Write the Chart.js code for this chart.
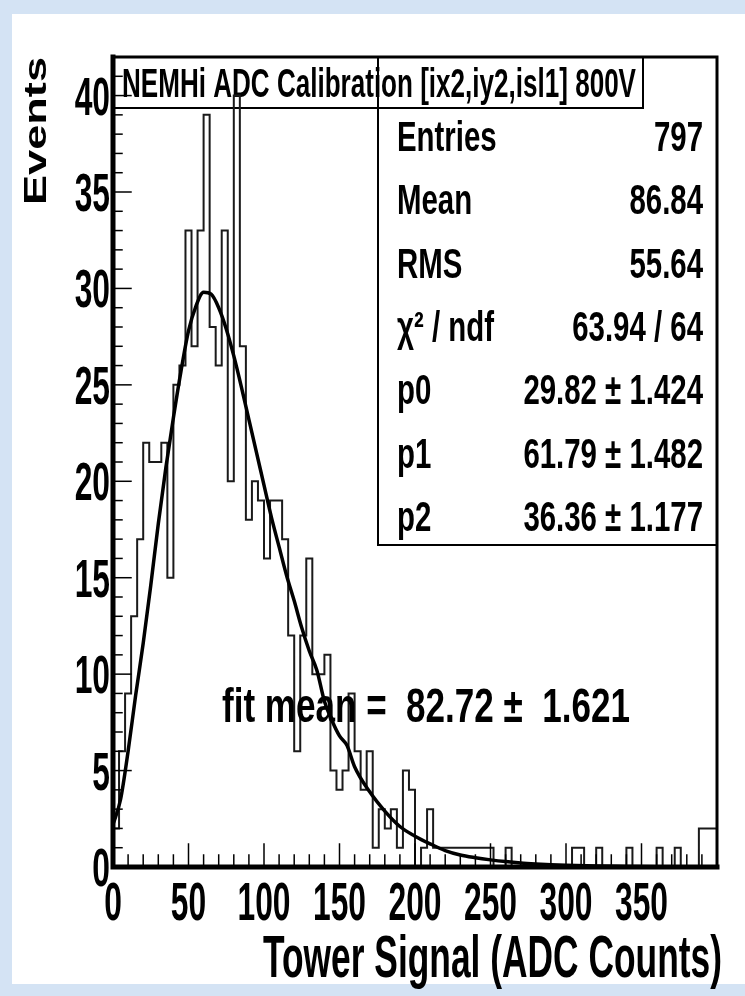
<!DOCTYPE html>
<html>
<head>
<meta charset="utf-8">
<title>NEMHi ADC Calibration</title>
<script src="https://cdn.jsdelivr.net/npm/chart.js@4.4.1/dist/chart.umd.min.js"></script>
<style>
  html, body { margin: 0; padding: 0; background: #d4e3f4; }
  canvas { display: block; }
</style>
</head>
<body>
<canvas id="histChart" width="745" height="996"></canvas>
<script>
// ===== DATA =====
const binWidth = 4;
const binCounts = [
  1, 2, 6, 9, 13, 17, 22, 21, 21, 22,
  15, 25, 26, 33, 27, 33, 39, 28, 26, 33,
  20, 40, 27, 18, 20, 19, 16, 19, 19, 17,
  12, 6, 12, 16, 10, 10, 11, 5, 4, 5,
  9, 6, 4, 6, 1, 3, 2, 3, 1, 5,
  4, 0, 1, 3, 1, 1, 1, 1, 1, 1,
  1, 1, 1, 1, 0, 0, 1, 0, 0, 0,
  0, 0, 0, 0, 0, 0, 0, 1, 1, 0,
  0, 1, 0, 0, 0, 0, 1, 0, 0, 0,
  0, 1, 0, 0, 1, 0, 0, 0, 2, 2
];

// fit curve
const fitX = [0, 5, 10, 15, 20, 25, 30, 35, 40, 45, 50, 55, 60, 65, 70, 75, 80, 85, 90, 95,
  100, 105, 110, 115, 120, 125, 130, 135, 140, 145, 150, 155, 160, 170, 180, 190, 200,
  210, 220, 230, 240, 250, 260, 270, 280, 290, 300, 320, 340, 360, 380, 400];
const fitY = [2.2, 3.5, 6.0, 8.9, 11.6, 14.6, 17.8, 20.7, 23.3, 25.7, 27.8, 29.1, 29.8, 29.7, 29.0, 27.9, 26.5, 24.9, 23.2, 21.5,
  19.8, 18.1, 16.6, 15.1, 13.8, 12.4, 11.2, 10.2, 8.6, 7.6, 6.8, 6.3, 5.2, 3.9, 2.9, 2.1, 1.6,
  1.2, 0.85, 0.62, 0.48, 0.37, 0.28, 0.21, 0.16, 0.12, 0.09, 0.05, 0.03, 0.01, 0, 0];

const xTickLabels = [0, 50, 100, 150, 200, 250, 300, 350];
const yTickLabels = [0, 5, 10, 15, 20, 25, 30, 35, 40];

const titleText = 'NEMHi ADC Calibration [ix2,iy2,isl1] 800V';
const xTitle = 'Tower Signal (ADC Counts)';
const yTitle = 'Events';
const statsLabels = ['Entries', 'Mean', 'RMS', 'χ² / ndf', 'p0', 'p1', 'p2'];
const statsValues = ['797', '86.84', '55.64', '63.94 / 64', '29.82 ± 1.424', '61.79 ± 1.482', '36.36 ± 1.177'];
const fitMeanText = 'fit mean =  82.72 ±  1.621';


// ===== TEXT HELPER =====
// text in the picture is squeezed sideways, so draw it scaled on x
function squeezed(ctx, text, x, y, size, sx, align, weight) {
  ctx.save();
  ctx.font = (weight || 'bold') + ' ' + size + 'px "Liberation Sans", Arial, sans-serif';
  ctx.textAlign = align || 'left';
  ctx.textBaseline = 'alphabetic';
  ctx.fillStyle = '#000';
  ctx.translate(x, y);
  ctx.scale(sx, 1);
  ctx.fillText(text, 0, 0);
  ctx.restore();
}

// same, but stretch to a given width
function fitted(ctx, text, x, y, size, width, align, weight) {
  ctx.save();
  ctx.font = (weight || 'bold') + ' ' + size + 'px "Liberation Sans", Arial, sans-serif';
  const w = ctx.measureText(text).width;
  ctx.restore();
  squeezed(ctx, text, x, y, size, width / w, align, weight);
}


// ===== BACKGROUND + BOXES =====
const backdrop = {
  id: 'backdrop',
  beforeDraw(chart) {
    const ctx = chart.ctx;
    const a = chart.chartArea;
    ctx.save();
    ctx.fillStyle = '#d4e3f4';
    ctx.fillRect(0, 0, chart.width, chart.height);
    ctx.fillStyle = '#fff';
    ctx.fillRect(12, 14, chart.width - 12, chart.height - 26);

    // title box
    ctx.strokeStyle = '#000';
    ctx.lineWidth = 2;
    ctx.strokeRect(a.left, a.top, 530, 51);

    // stats box
    ctx.strokeRect(378, a.top, a.right - 378, 488);
    ctx.restore();

    fitted(ctx, titleText, 122, 97, 40, 514, 'left', 'bold');

    const sSize = 42;
    const sSx = 0.7;
    statsLabels.forEach((lab, i) => {
      const base = 151 + i * 63.3;
      squeezed(ctx, lab, 397, base, sSize, sSx, 'left');
      squeezed(ctx, statsValues[i], 703, base, sSize, sSx, 'right');
    });
  }
};


// ===== FRAME, TICKS, AXIS TEXT =====
const frame = {
  id: 'frame',
  afterDatasetsDraw(chart) {
    const ctx = chart.ctx;
    const a = chart.chartArea;
    const xs = chart.scales.x;
    const ys = chart.scales.y;

    ctx.save();
    ctx.strokeStyle = '#000';
    ctx.lineCap = 'square';

    // ticks pointing inside the frame
    ctx.lineWidth = 1.5;
    for (let v = 10; v < 400; v += 10) {
      const px = xs.getPixelForValue(v);
      const len = v % 50 === 0 ? 23 : 12;
      ctx.beginPath();
      ctx.moveTo(px, a.bottom);
      ctx.lineTo(px, a.bottom - len);
      ctx.stroke();
    }
    for (let v = 1; v < 42; v++) {
      const py = ys.getPixelForValue(v);
      const len = v % 5 === 0 ? 18 : 9;
      ctx.beginPath();
      ctx.moveTo(a.left, py);
      ctx.lineTo(a.left + len, py);
      ctx.stroke();
    }

    // frame
    ctx.lineWidth = 3;
    ctx.strokeRect(a.left, a.top, a.right - a.left, a.bottom - a.top);
    ctx.lineWidth = 5;
    ctx.beginPath();
    ctx.moveTo(a.left, a.top);
    ctx.lineTo(a.left, a.bottom);
    ctx.lineTo(a.right, a.bottom);
    ctx.stroke();
    ctx.restore();

    // tick labels
    xTickLabels.forEach(v => {
      squeezed(ctx, String(v), xs.getPixelForValue(v), 920, 53, 0.6, 'center');
    });
    yTickLabels.forEach(v => {
      squeezed(ctx, String(v), 110, ys.getPixelForValue(v) + 19, 53, 0.6, 'right');
    });

    // axis titles
    fitted(ctx, xTitle, 722, 977, 60, 459, 'right');
    ctx.save();
    ctx.translate(46, 205);
    ctx.rotate(-Math.PI / 2);
    ctx.font = 'bold 40px "Liberation Sans", Arial, sans-serif';
    const w = ctx.measureText(yTitle).width;
    ctx.scale(148 / w, 0.8);
    ctx.fillStyle = '#000';
    ctx.fillText(yTitle, 0, 0);
    ctx.restore();

    fitted(ctx, fitMeanText, 222, 722, 48, 408, 'left');
  }
};


// ===== CHART =====
const histPoints = binCounts.map((c, i) => ({ x: i * binWidth, y: c }));
histPoints.push({ x: binCounts.length * binWidth, y: binCounts[binCounts.length - 1] });

const fitPoints = fitX.map((x, i) => ({ x: x, y: fitY[i] }));

const ctx = document.getElementById('histChart').getContext('2d');

new Chart(ctx, {
  type: 'line',
  data: {
    datasets: [
      {
        label: 'fit',
        data: fitPoints,
        borderColor: '#000',
        borderWidth: 3.5,
        pointRadius: 0,
        cubicInterpolationMode: 'monotone',
        fill: false,
        order: 0
      },
      {
        label: 'hist',
        data: histPoints,
        borderColor: '#1a1a1a',
        borderWidth: 2,
        pointRadius: 0,
        stepped: 'after',
        fill: false,
        order: 1
      }
    ]
  },
  options: {
    responsive: false,
    animation: false,
    events: [],
    layout: { padding: { left: 113, top: 57, right: 28, bottom: 129 } },
    plugins: {
      legend: { display: false },
      tooltip: { enabled: false }
    },
    scales: {
      x: { type: 'linear', min: 0, max: 400, display: false },
      y: { type: 'linear', min: 0, max: 42, display: false }
    }
  },
  plugins: [backdrop, frame]
});
</script>
</body>
</html>
